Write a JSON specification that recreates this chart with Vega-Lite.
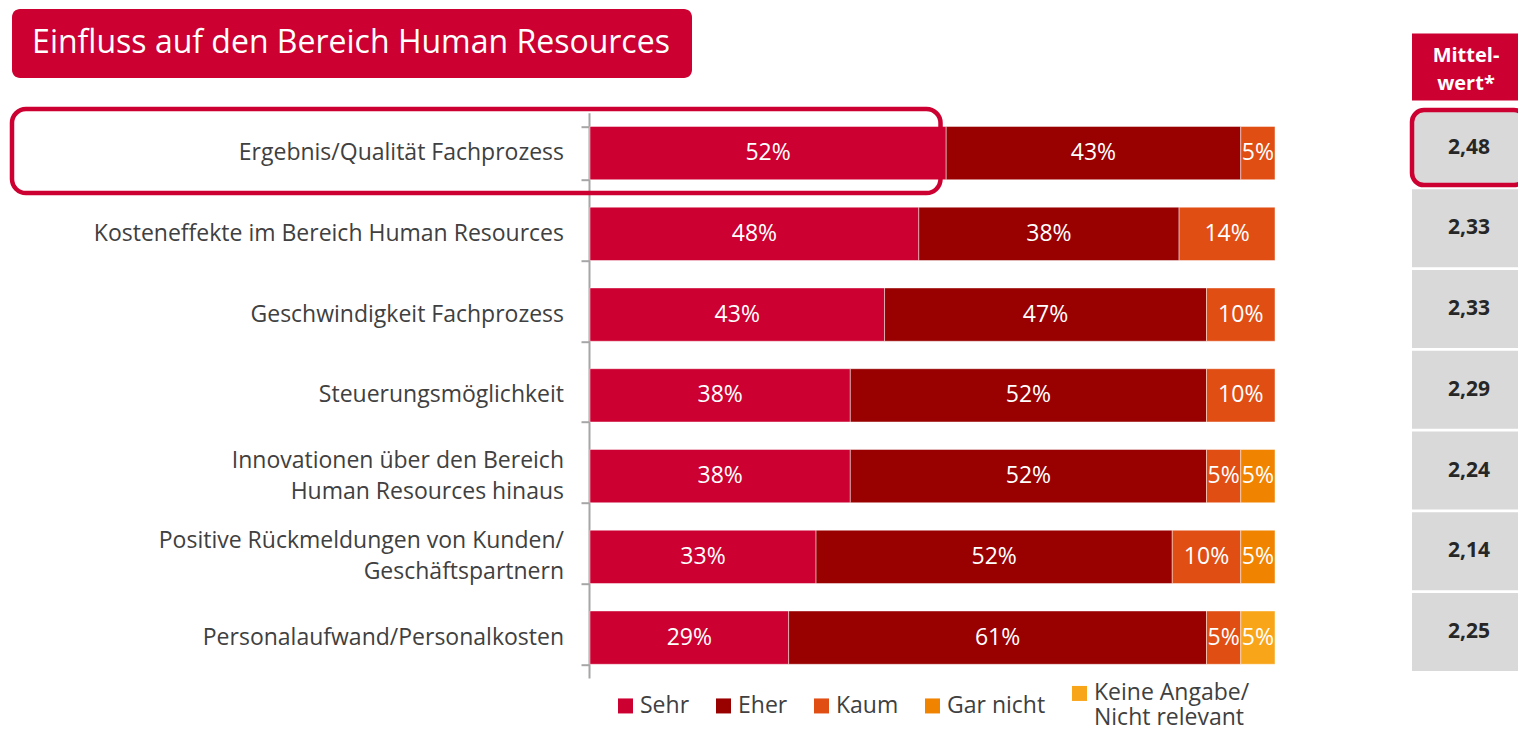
{
  "$schema": "https://vega.github.io/schema/vega-lite/v6.json",
  "width": 928,
  "height": 565.3,
  "autosize": {"type": "none"},
  "padding": {"left": 590, "top": 112.7, "right": 0, "bottom": 69},
  "background": "white",
  "config": {
    "view": {"stroke": null},
    "font": "Open Sans",
    "locale": {"number": {"decimal": ",", "thousands": ".", "grouping": [3], "currency": ["", " €"]}}
  },
  "datasets": {
    "antworten": [
      {"kategorie": "Ergebnis/Qualität Fachprozess", "antwort": "Sehr", "anteil": 0.52},
      {"kategorie": "Ergebnis/Qualität Fachprozess", "antwort": "Eher", "anteil": 0.43},
      {"kategorie": "Ergebnis/Qualität Fachprozess", "antwort": "Kaum", "anteil": 0.05},
      {"kategorie": "Kosteneffekte im Bereich Human Resources", "antwort": "Sehr", "anteil": 0.48},
      {"kategorie": "Kosteneffekte im Bereich Human Resources", "antwort": "Eher", "anteil": 0.38},
      {"kategorie": "Kosteneffekte im Bereich Human Resources", "antwort": "Kaum", "anteil": 0.14},
      {"kategorie": "Geschwindigkeit Fachprozess", "antwort": "Sehr", "anteil": 0.43},
      {"kategorie": "Geschwindigkeit Fachprozess", "antwort": "Eher", "anteil": 0.47},
      {"kategorie": "Geschwindigkeit Fachprozess", "antwort": "Kaum", "anteil": 0.10},
      {"kategorie": "Steuerungsmöglichkeit", "antwort": "Sehr", "anteil": 0.38},
      {"kategorie": "Steuerungsmöglichkeit", "antwort": "Eher", "anteil": 0.52},
      {"kategorie": "Steuerungsmöglichkeit", "antwort": "Kaum", "anteil": 0.10},
      {"kategorie": "Innovationen über den Bereich\nHuman Resources hinaus", "antwort": "Sehr", "anteil": 0.38},
      {"kategorie": "Innovationen über den Bereich\nHuman Resources hinaus", "antwort": "Eher", "anteil": 0.52},
      {"kategorie": "Innovationen über den Bereich\nHuman Resources hinaus", "antwort": "Kaum", "anteil": 0.05},
      {"kategorie": "Innovationen über den Bereich\nHuman Resources hinaus", "antwort": "Gar nicht", "anteil": 0.05},
      {"kategorie": "Positive Rückmeldungen von Kunden/\nGeschäftspartnern", "antwort": "Sehr", "anteil": 0.33},
      {"kategorie": "Positive Rückmeldungen von Kunden/\nGeschäftspartnern", "antwort": "Eher", "anteil": 0.52},
      {"kategorie": "Positive Rückmeldungen von Kunden/\nGeschäftspartnern", "antwort": "Kaum", "anteil": 0.10},
      {"kategorie": "Positive Rückmeldungen von Kunden/\nGeschäftspartnern", "antwort": "Gar nicht", "anteil": 0.05},
      {"kategorie": "Personalaufwand/Personalkosten", "antwort": "Sehr", "anteil": 0.29},
      {"kategorie": "Personalaufwand/Personalkosten", "antwort": "Eher", "anteil": 0.61},
      {"kategorie": "Personalaufwand/Personalkosten", "antwort": "Kaum", "anteil": 0.05},
      {"kategorie": "Personalaufwand/Personalkosten", "antwort": "Keine Angabe/\nNicht relevant", "anteil": 0.05}
    ],
    "mittelwerte": [
      {"kategorie": "Ergebnis/Qualität Fachprozess", "mittelwert": 2.48},
      {"kategorie": "Kosteneffekte im Bereich Human Resources", "mittelwert": 2.33},
      {"kategorie": "Geschwindigkeit Fachprozess", "mittelwert": 2.33},
      {"kategorie": "Steuerungsmöglichkeit", "mittelwert": 2.29},
      {"kategorie": "Innovationen über den Bereich\nHuman Resources hinaus", "mittelwert": 2.24},
      {"kategorie": "Positive Rückmeldungen von Kunden/\nGeschäftspartnern", "mittelwert": 2.14},
      {"kategorie": "Personalaufwand/Personalkosten", "mittelwert": 2.25}
    ]
  },
  "layer": [
    {
      "data": {"name": "antworten"},
      "transform": [
        {"stack": "anteil", "groupby": ["kategorie"], "as": ["x0", "x1"]}
      ],
      "mark": {"type": "bar", "stroke": "white", "strokeWidth": 1, "strokeOpacity": 0.45},
      "encoding": {
        "y": {
          "field": "kategorie", "type": "nominal", "title": null,
          "sort": null,
          "scale": {
            "domain": [
              "Ergebnis/Qualität Fachprozess",
              "Kosteneffekte im Bereich Human Resources",
              "Geschwindigkeit Fachprozess",
              "Steuerungsmöglichkeit",
              "Innovationen über den Bereich\nHuman Resources hinaus",
              "Positive Rückmeldungen von Kunden/\nGeschäftspartnern",
              "Personalaufwand/Personalkosten"
            ],
            "paddingInner": 0.34,
            "paddingOuter": 0.17
          },
          "axis": {
            "title": null,
            "offset": 1,
            "domainColor": "#A6A6A6",
            "domainWidth": 2,
            "tickColor": "#A6A6A6",
            "tickWidth": 2,
            "tickSize": 8,
            "tickBand": "extent",
            "labels": false
          }
        },
        "x": {
          "field": "x0", "type": "quantitative",
          "scale": {"domain": [0, 1.35474], "nice": false, "zero": false},
          "axis": null
        },
        "x2": {"field": "x1"},
        "color": {
          "field": "antwort", "type": "nominal",
          "scale": {
            "domain": ["Sehr", "Eher", "Kaum", "Gar nicht", "Keine Angabe/\nNicht relevant"],
            "range": ["#CC0031", "#990000", "#E04E14", "#F08300", "#F9A51A"]
          },
          "legend": {
            "orient": "none",
            "legendX": 24,
            "legendY": 569,
            "direction": "horizontal",
            "title": null,
            "padding": 0,
            "symbolType": "square",
            "symbolSize": 225,
            "symbolStrokeWidth": 0,
            "labelFont": "Open Sans",
            "labelFontSize": 23,
            "labelColor": "#404040",
            "labelOffset": 3,
            "labelLimit": 0,
            "columnPadding": 22,
            "labelExpr": "split(datum.label, '\\n')"
          }
        }
      }
    },
    {
      "data": {"name": "mittelwerte"},
      "transform": [{"filter": "indexof(datum.kategorie, '\\n') < 0"}],
      "mark": {"type": "text", "align": "right", "baseline": "middle", "dx": -26, "color": "#404040", "fontSize": 23, "font": "Open Sans"},
      "encoding": {
        "y": {"field": "kategorie", "type": "nominal", "title": null},
        "x": {"datum": 0},
        "text": {"field": "kategorie", "type": "nominal"}
      }
    },
    {
      "data": {"name": "mittelwerte"},
      "transform": [{"filter": "indexof(datum.kategorie, '\\n') >= 0"}],
      "mark": {"type": "text", "align": "right", "baseline": "middle", "dx": -26, "dy": -15.5, "lineBreak": "\n", "lineHeight": 31, "color": "#404040", "fontSize": 23, "font": "Open Sans"},
      "encoding": {
        "y": {"field": "kategorie", "type": "nominal", "title": null},
        "x": {"datum": 0},
        "text": {"field": "kategorie", "type": "nominal"}
      }
    },
    {
      "data": {"name": "antworten"},
      "transform": [
        {"stack": "anteil", "groupby": ["kategorie"], "as": ["x0", "x1"]},
        {"calculate": "(datum.x0 + datum.x1) / 2", "as": "mitte"}
      ],
      "mark": {"type": "text", "color": "white", "fontSize": 23, "font": "Open Sans"},
      "encoding": {
        "y": {"field": "kategorie", "type": "nominal", "title": null},
        "x": {"field": "mitte", "type": "quantitative"},
        "text": {"field": "anteil", "type": "quantitative", "format": ".0%"}
      }
    },
    {
      "data": {"name": "mittelwerte"},
      "transform": [{"filter": "datum.kategorie !== 'Ergebnis/Qualität Fachprozess'"}],
      "mark": {"type": "bar", "color": "#D9D9D9", "height": 78, "yOffset": -5.5},
      "encoding": {
        "y": {"field": "kategorie", "type": "nominal", "title": null},
        "x": {"datum": 1.2},
        "x2": {"datum": 1.3664}
      }
    },
    {
      "data": {"name": "mittelwerte"},
      "transform": [{"filter": "datum.kategorie === 'Ergebnis/Qualität Fachprozess'"}],
      "mark": {"type": "bar", "fill": "#D9D9D9", "stroke": "#CC0031", "strokeWidth": 4.5, "cornerRadius": 12, "height": 75, "yOffset": -5.5},
      "encoding": {
        "y": {"field": "kategorie", "type": "nominal", "title": null},
        "x": {"datum": 1.2},
        "x2": {"datum": 1.3664}
      }
    },
    {
      "data": {"name": "mittelwerte"},
      "mark": {"type": "text", "color": "#262626", "fontSize": 21, "fontWeight": "bold", "font": "Open Sans", "yOffset": -5.5},
      "encoding": {
        "y": {"field": "kategorie", "type": "nominal", "title": null},
        "x": {"datum": 1.2832},
        "text": {"field": "mittelwert", "type": "quantitative", "format": ".2f"}
      }
    },
    {
      "data": {"values": [{"spalte": "Mittelwert*"}]},
      "mark": {"type": "bar", "color": "#CC0031", "height": 67, "yOffset": -86},
      "encoding": {
        "y": {"datum": "Ergebnis/Qualität Fachprozess", "type": "nominal"},
        "x": {"datum": 1.2},
        "x2": {"datum": 1.3664}
      }
    },
    {
      "data": {"values": [{"spalte": "Mittel-\nwert*"}]},
      "mark": {"type": "text", "color": "white", "fontSize": 20, "fontWeight": "bold", "font": "Open Sans", "lineHeight": 28, "lineBreak": "\n", "yOffset": -97.5},
      "encoding": {
        "y": {"datum": "Ergebnis/Qualität Fachprozess", "type": "nominal"},
        "x": {"datum": 1.2788},
        "text": {"field": "spalte", "type": "nominal"}
      }
    },
    {
      "data": {"values": [{"titel": "Einfluss auf den Bereich Human Resources"}]},
      "mark": {"type": "bar", "color": "#CC0031", "height": 69, "yOffset": -109.6, "cornerRadius": 8},
      "encoding": {
        "y": {"datum": "Ergebnis/Qualität Fachprozess", "type": "nominal"},
        "x": {"datum": -0.8438},
        "x2": {"datum": 0.1489}
      }
    },
    {
      "data": {"values": [{"titel": "Einfluss auf den Bereich Human Resources"}]},
      "mark": {"type": "text", "color": "white", "fontSize": 32, "font": "Open Sans", "yOffset": -109.6},
      "encoding": {
        "y": {"datum": "Ergebnis/Qualität Fachprozess", "type": "nominal"},
        "x": {"datum": -0.3489},
        "text": {"field": "titel", "type": "nominal"}
      }
    },
    {
      "data": {"values": [{"markiert": "Ergebnis/Qualität Fachprozess"}]},
      "mark": {"type": "bar", "filled": false, "color": "#CC0031", "strokeWidth": 4.5, "cornerRadius": 14, "height": 84, "yOffset": -2},
      "encoding": {
        "y": {"field": "markiert", "type": "nominal", "title": null},
        "x": {"datum": -0.8438},
        "x2": {"datum": 0.5117}
      }
    }
  ]
}
